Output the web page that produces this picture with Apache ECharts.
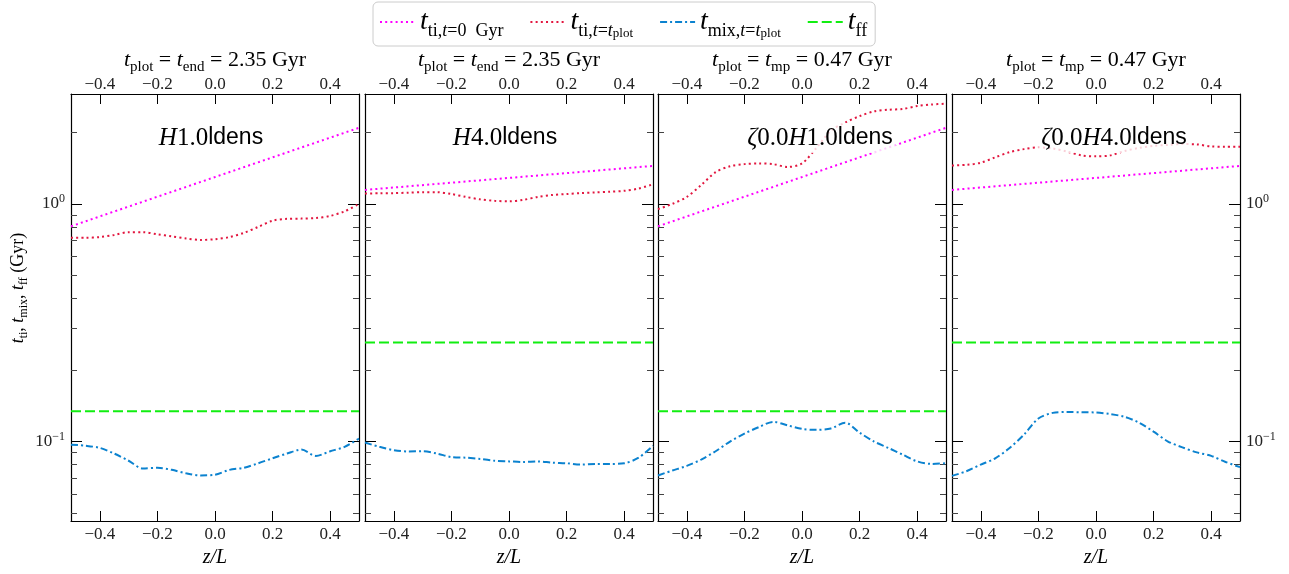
<!DOCTYPE html>
<html>
<head>
<meta charset="utf-8">
<script src="https://cdn.jsdelivr.net/npm/echarts@6/dist/echarts.min.js"></script>
<style>
html, body { margin: 0; padding: 0; background: #fff; }
#chart { width: 1289px; height: 574px; }
</style>
</head>
<body>
<div id="chart"></div>
<script>
// z/L sample points of the profiles
var zGrid = [-0.5, -0.45, -0.4, -0.35, -0.3, -0.25, -0.2, -0.15, -0.1, -0.05, 0, 0.05, 0.1, 0.15, 0.2, 0.25, 0.3, 0.35, 0.4, 0.45, 0.5];
var zEnds = [-0.5, 0.5];
var xTicks = [-0.4, -0.2, 0, 0.2, 0.4];
var yMajor = [0.1, 1];
var yMinor = [0.05, 0.06, 0.07, 0.08, 0.09, 0.2, 0.3, 0.4, 0.5, 0.6, 0.7, 0.8, 0.9, 2];

// panel captions
var panelRun = ['H1.0', 'H4.0', 'ζ0.0H1.0', 'ζ0.0H4.0'];
var panelTimeName = ['end', 'end', 'mp', 'mp'];
var panelTimeValue = ['2.35', '2.35', '0.47', '0.47'];

// t_ti at t=0: ends at z/L = -0.5 and 0.5
var tti0 = [[0.805, 2.09], [1.145, 1.445], [0.805, 2.09], [1.145, 1.445]];

// t_ti at t = t_plot
var ttiPlot1 = [0.72, 0.72, 0.725, 0.74, 0.76, 0.76, 0.745, 0.73, 0.715, 0.705, 0.71, 0.725, 0.755, 0.80, 0.85, 0.865, 0.867, 0.872, 0.89, 0.93, 1.0];
var ttiPlot2 = [1.105, 1.108, 1.11, 1.115, 1.12, 1.12, 1.10, 1.07, 1.045, 1.03, 1.025, 1.04, 1.07, 1.09, 1.10, 1.11, 1.117, 1.125, 1.135, 1.16, 1.21];
var ttiPlot3 = [0.95, 1.0, 1.07, 1.2, 1.36, 1.44, 1.47, 1.48, 1.47, 1.43, 1.48, 1.72, 2.03, 2.2, 2.34, 2.45, 2.49, 2.51, 2.58, 2.62, 2.64];
var ttiPlot4 = [1.45, 1.46, 1.49, 1.57, 1.65, 1.70, 1.73, 1.71, 1.66, 1.60, 1.585, 1.60, 1.67, 1.72, 1.755, 1.77, 1.785, 1.78, 1.745, 1.74, 1.74];

// t_mix at t = t_plot
var tmix1 = [0.097, 0.096, 0.094, 0.089, 0.083, 0.077, 0.0775, 0.076, 0.0735, 0.072, 0.0725, 0.076, 0.0775, 0.081, 0.085, 0.089, 0.0925, 0.087, 0.091, 0.095, 0.103];
var tmix2 = [0.099, 0.095, 0.092, 0.0908, 0.091, 0.089, 0.086, 0.0855, 0.0845, 0.083, 0.0825, 0.082, 0.0825, 0.0815, 0.081, 0.08, 0.0805, 0.0805, 0.081, 0.0855, 0.096];
var tmix3 = [0.072, 0.0755, 0.079, 0.084, 0.091, 0.1, 0.108, 0.115, 0.121, 0.117, 0.113, 0.112, 0.1135, 0.12, 0.109, 0.1, 0.094, 0.088, 0.0825, 0.0805, 0.081];
var tmix4 = [0.0717, 0.075, 0.08, 0.085, 0.094, 0.107, 0.125, 0.132, 0.1332, 0.1328, 0.1325, 0.1305, 0.127, 0.12, 0.11, 0.1, 0.0945, 0.09, 0.087, 0.082, 0.078];

// free-fall time, constant per panel
var tff = [0.134, 0.261, 0.134, 0.261];

var ttiPlot = [ttiPlot1, ttiPlot2, ttiPlot3, ttiPlot4];
var tmix = [tmix1, tmix2, tmix3, tmix4];

var myChart = echarts.init(document.getElementById('chart'));

var SERIF = '"Liberation Serif", "DejaVu Serif", serif';
var SANS = '"Liberation Sans", "DejaVu Sans", sans-serif';
var panelLeft = [71, 365, 658, 952];
var panelW = 288, panelTop = 94, panelH = 427;
var yMin = 0.0463, yMax = 2.9;

var mathRich = {
	i: { fontFamily: SERIF, fontStyle: 'italic', fontSize: 22, lineHeight: 30, color: '#000' },
	n: { fontFamily: SERIF, fontSize: 22, lineHeight: 30, color: '#000' },
	s: { fontFamily: SERIF, fontSize: 15, lineHeight: 18, verticalAlign: 'bottom', color: '#000' },
	sf: { fontFamily: SANS, fontSize: 23, lineHeight: 30, color: '#000' },
	I: { fontFamily: SERIF, fontStyle: 'italic', fontSize: 25, lineHeight: 30, color: '#000' },
	N: { fontFamily: SERIF, fontSize: 25, lineHeight: 30, color: '#000' }
};
var labelRich = {
	i: { fontFamily: SERIF, fontStyle: 'italic', fontSize: 18, lineHeight: 24, color: '#000' },
	n: { fontFamily: SERIF, fontSize: 18, lineHeight: 24, color: '#000' },
	s: { fontFamily: SERIF, fontSize: 12, lineHeight: 15, verticalAlign: 'bottom', color: '#000' }
};

function pair(xs, ys) {
	return xs.map(function (x, k) { return [x, ys[k]]; });
}
function tickText(v) {
	return (v < 0 ? '\u2212' : '') + Math.abs(v).toFixed(1);
}
function powText(v) {
	return v < 0.5 ? '10{sup|\u22121}' : '10{sup|0}';
}

var grids = [], xAxes = [], yAxes = [], series = [], graphics = [];
var tickStyle = { color: '#000', width: 1 };

for (var p = 0; p < 4; p++) {
	grids.push({ left: panelLeft[p], top: panelTop, width: panelW, height: panelH, outerBoundsMode: 'none' });
	['bottom', 'top'].forEach(function (pos) {
		xAxes.push({
			type: 'value', gridIndex: p, position: pos, min: -0.5, max: 0.5,
			name: pos === 'bottom' ? 'z/L' : '', nameLocation: 'middle', nameGap: 24,
			nameTextStyle: { fontFamily: SERIF, fontStyle: 'italic', fontSize: 20, color: '#000', verticalAlign: 'top' },
			axisLine: { show: true, onZero: false, lineStyle: { color: '#000', width: 1.2 } },
			axisTick: { show: true, inside: true, length: 10, customValues: xTicks, lineStyle: tickStyle },
			axisLabel: { show: true, margin: pos === 'bottom' ? 5 : 1, customValues: xTicks, formatter: tickText, fontFamily: SERIF, fontSize: 17, color: '#222' },
			splitLine: { show: false }
		});
	});
	['left', 'right'].forEach(function (pos) {
		var showLab = (pos === 'left' && p === 0) || (pos === 'right' && p === 3);
		yAxes.push({
			type: 'log', gridIndex: p, position: pos, min: yMin, max: yMax,
			axisLine: { show: true, onZero: false, lineStyle: { color: '#000', width: 1.2 } },
			axisTick: { show: true, inside: true, length: 11, customValues: yMajor, lineStyle: tickStyle },
			axisLabel: {
				show: showLab, margin: 6, customValues: yMajor, formatter: powText,
				fontFamily: SERIF, fontSize: 17, color: '#222', lineHeight: 22,
				rich: { sup: { fontFamily: SERIF, fontSize: 12, verticalAlign: 'top', lineHeight: 14, color: '#222' } }
			},
			splitLine: { show: false }
		});
		yAxes.push({
			type: 'log', gridIndex: p, position: pos, min: yMin, max: yMax,
			axisLine: { show: false, onZero: false },
			axisTick: { show: true, inside: true, length: 6, customValues: yMinor, lineStyle: { color: '#444', width: 1 } },
			axisLabel: { show: false },
			splitLine: { show: false }
		});
	});

	var xi = 2 * p, yi = 4 * p;
	series.push({
		name: 'tti0', type: 'line', xAxisIndex: xi, yAxisIndex: yi, symbol: 'none', silent: true,
		data: pair(zEnds, tti0[p]),
		lineStyle: { color: '#ff00ff', width: 2, type: [2, 3.2] }, itemStyle: { color: '#ff00ff' }
	});
	series.push({
		name: 'ttiPlot', type: 'line', xAxisIndex: xi, yAxisIndex: yi, symbol: 'none', silent: true, smooth: 0.3,
		data: pair(zGrid, ttiPlot[p]),
		lineStyle: { color: '#e2163f', width: 2, type: [2, 3.2] }, itemStyle: { color: '#e2163f' }
	});
	series.push({
		name: 'tmix', type: 'line', xAxisIndex: xi, yAxisIndex: yi, symbol: 'none', silent: true, smooth: 0.3,
		data: pair(zGrid, tmix[p]),
		lineStyle: { color: '#0b82cf', width: 2, type: [7, 3, 2, 3] }, itemStyle: { color: '#0b82cf' }
	});
	series.push({
		name: 'tff', type: 'line', xAxisIndex: xi, yAxisIndex: yi, symbol: 'none', silent: true,
		data: pair(zEnds, [tff[p], tff[p]]),
		lineStyle: { color: '#11ee11', width: 2, type: [10, 4] }, itemStyle: { color: '#11ee11' }
	});

	var cx = panelLeft[p] + panelW / 2;
	graphics.push({
		type: 'text', x: cx, y: 60, z: 100,
		style: {
			text: '{i|t}{s|plot}{n| = }{i|t}{s|' + panelTimeName[p] + '}{n| = ' + panelTimeValue[p] + ' Gyr}',
			align: 'center', verticalAlign: 'middle', rich: mathRich
		}
	});
	var run = p >= 2 ? '{I|ζ}{N|0.0}{I|H}{N|' + panelRun[p].slice(-3) + '}' : '{I|H}{N|' + panelRun[p].slice(1) + '}';
	graphics.push({
		type: 'text', x: p >= 2 ? cx + 18 : cx - 4, y: 138, z: 100,
		style: {
			text: run + '{sf|ldens}', align: 'center', verticalAlign: 'middle', rich: mathRich,
			backgroundColor: 'rgba(255,255,255,0.8)', padding: [0, 3]
		}
	});
}

// y-axis title
graphics.push({
	type: 'text', x: 18, y: 288, rotation: Math.PI / 2, z: 100,
	style: {
		text: '{i|t}{s|ti}{n|, }{i|t}{s|mix}{n|, }{i|t}{s|ff}{n| (Gyr)}',
		align: 'center', verticalAlign: 'middle', rich: labelRich
	}
});

var legendText = {
	tti0: '{t|t}{s|ti,}{si|t}{s|=0  Gyr}',
	ttiPlot: '{t|t}{s|ti,}{si|t}{s|=}{si|t}{ss|plot}',
	tmix: '{t|t}{s|mix,}{si|t}{s|=}{si|t}{ss|plot}',
	tff: '{t|t}{s|ff}'
};

var option = {
	animation: false,
	backgroundColor: '#fff',
	legend: {
		data: ['tti0', 'ttiPlot', 'tmix', 'tff'],
		left: 373, top: 2,
		padding: [6, 8, 6, 6],
		itemWidth: 35, itemHeight: 14, itemGap: 26,
		borderColor: '#cccccc', borderWidth: 1, borderRadius: 5, backgroundColor: '#fff',
		selectedMode: false,
		itemStyle: { opacity: 0 },
		formatter: function (name) { return legendText[name]; },
		textStyle: {
			rich: {
				t: { fontFamily: SERIF, fontStyle: 'italic', fontSize: 28, lineHeight: 36, color: '#000' },
				s: { fontFamily: SERIF, fontSize: 18, lineHeight: 22, verticalAlign: 'bottom', color: '#000' },
				si: { fontFamily: SERIF, fontStyle: 'italic', fontSize: 18, lineHeight: 22, verticalAlign: 'bottom', color: '#000' },
				ss: { fontFamily: SERIF, fontSize: 13, lineHeight: 13, verticalAlign: 'bottom', color: '#000' }
			}
		}
	},
	grid: grids,
	xAxis: xAxes,
	yAxis: yAxes,
	series: series,
	graphic: graphics
};

myChart.setOption(option);
window.onresize = function () { myChart.resize(); };
</script>
</body>
</html>
